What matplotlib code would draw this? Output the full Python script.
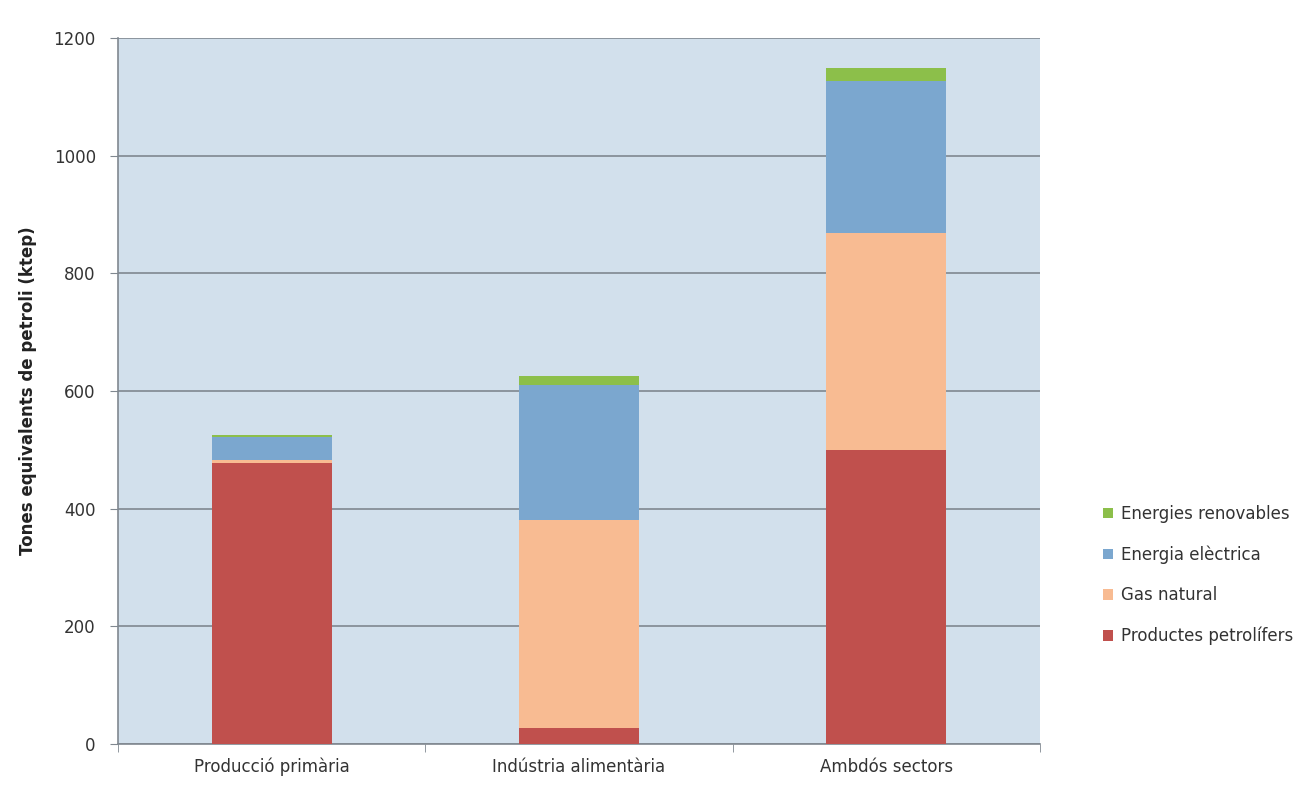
import matplotlib.pyplot as plt
import numpy as np

categories = ["Producció primària", "Indústria alimentària", "Ambdós sectors"]
series_names = ["Productes petrolífers", "Gas natural", "Energia elèctrica", "Energies renovables"]
petrolifers = [477, 27, 500]
gas_natural = [6, 354, 369]
electrica = [39, 229, 258]
renovables = [3, 15, 22]
colors = ["#C0504D", "#F8BB92", "#7BA7CF", "#8CBF4A"]

fig = plt.figure(figsize=(13.13, 7.98), dpi=100)
ax = fig.add_axes([118 / 1313, 1 - 744 / 798, 922 / 1313, 706 / 798])
ax.set_facecolor("#D2E0EC")

x = np.arange(len(categories))
bottom = np.zeros(len(categories))
handles = []
for name, vals, col in zip(series_names, [petrolifers, gas_natural, electrica, renovables], colors):
    b = ax.bar(x, vals, width=0.39, bottom=bottom, color=col, label=name, zorder=3)
    handles.append(b)
    bottom += np.array(vals)

ax.set_xlim(-0.5, 2.5)
ax.set_ylim(0, 1200)
ax.set_yticks(range(0, 1201, 200))
ax.yaxis.grid(True, color="#808890", linewidth=1.2, zorder=1)
ax.set_xticks(x)
ax.set_xticklabels(categories, fontsize=12, color="#333333")
ax.set_xticks([-0.5, 0.5, 1.5, 2.5], minor=True)
ax.tick_params(axis="x", which="major", length=0, pad=10)
ax.tick_params(axis="x", which="minor", length=6, color="#808890")
ax.tick_params(axis="y", length=6, color="#808890", labelsize=12, labelcolor="#333333", pad=10)

for side in ["top", "right"]:
    ax.spines[side].set_visible(False)
for side in ["left", "bottom"]:
    ax.spines[side].set_color("#808890")
    ax.spines[side].set_linewidth(1.2)

ax.set_ylabel("Tones equivalents de petroli (ktep)", fontsize=12, fontweight="bold", color="#222222", labelpad=12)

leg = fig.legend(handles[::-1], series_names[::-1], loc="center left",
                 bbox_to_anchor=(1088 / 1313, 1 - 575 / 798), frameon=False,
                 fontsize=12, handlelength=0.6, handleheight=0.6, labelspacing=1.35,
                 handletextpad=0.5)
for t in leg.get_texts():
    t.set_color("#333333")

fig.savefig("out.png", dpi=100)
